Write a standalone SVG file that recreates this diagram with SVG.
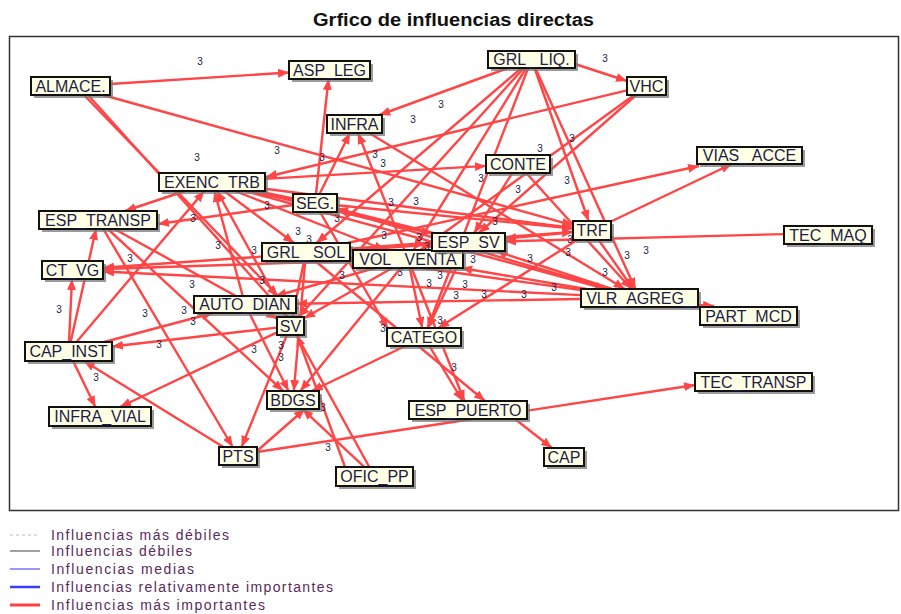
<svg xmlns="http://www.w3.org/2000/svg" width="901" height="614" viewBox="0 0 901 614">
<defs>
<style>
.t{font-family:"Liberation Sans",Arial,sans-serif;font-weight:bold;font-size:18px;fill:#111}
.e line{stroke:#ff4545;stroke-width:2.4;marker-end:url(#a)}
.lb text{font-family:"Liberation Sans",Arial,sans-serif;font-size:10px;fill:#1c1c48;text-anchor:middle}
.n rect.s{fill:#7a7a7a;opacity:.75}
.n rect.b{fill:#ffffe6;stroke:#111;stroke-width:2}
.n text{font-family:"Liberation Sans",Arial,sans-serif;font-size:16px;fill:#1c1c48;text-anchor:middle}
.lg text{font-family:"Liberation Sans",Arial,sans-serif;font-size:14px;fill:#5a2a5a}
</style>
<marker id="a" markerUnits="userSpaceOnUse" markerWidth="12" markerHeight="9" refX="11" refY="4.5" orient="auto"><path d="M0,0 L11,4.5 L0,9 z" fill="#ff4545"/></marker>
</defs>
<rect width="901" height="614" fill="#fff"/>
<text class="t" x="313" y="26" textLength="281" lengthAdjust="spacingAndGlyphs">Grfico de influencias directas</text>
<rect x="9.5" y="36.5" width="889" height="474" fill="none" stroke="#333" stroke-width="1.5"/>
<g id="connectors" class="e">
<line x1="110" y1="84" x2="289" y2="72.5"/>
<line x1="84" y1="95" x2="278" y2="296"/>
<line x1="88" y1="95" x2="288" y2="317"/>
<line x1="103" y1="95" x2="573" y2="225.3"/>
<line x1="316" y1="194" x2="328.5" y2="79"/>
<line x1="319.5" y1="194" x2="350" y2="133"/>
<line x1="404.4" y1="250" x2="358" y2="133"/>
<line x1="369.2" y1="133" x2="624.8" y2="289"/>
<line x1="508.2" y1="68" x2="379.3" y2="115"/>
<line x1="575" y1="64" x2="627" y2="81"/>
<line x1="534.5" y1="68" x2="588.6" y2="221"/>
<line x1="521.5" y1="68" x2="316.5" y2="243"/>
<line x1="526.2" y1="68" x2="413.6" y2="250"/>
<line x1="523.8" y1="68" x2="298.6" y2="317"/>
<line x1="528.2" y1="68" x2="427.5" y2="328"/>
<line x1="627" y1="90.3" x2="266" y2="177"/>
<line x1="636.2" y1="95" x2="478.8" y2="233"/>
<line x1="634.1" y1="95" x2="420.4" y2="250"/>
<line x1="265" y1="178.9" x2="486" y2="165.9"/>
<line x1="526.2" y1="173" x2="631.4" y2="289"/>
<line x1="512.3" y1="173" x2="474.2" y2="233"/>
<line x1="76.5" y1="342" x2="204.4" y2="191"/>
<line x1="242.7" y1="296" x2="214.4" y2="191"/>
<line x1="293" y1="198.5" x2="256.3" y2="191"/>
<line x1="185" y1="191" x2="125" y2="211"/>
<line x1="293" y1="205" x2="158" y2="224"/>
<line x1="70.6" y1="342" x2="96" y2="229"/>
<line x1="107.8" y1="229" x2="283.2" y2="391"/>
<line x1="103.3" y1="229" x2="232.7" y2="447"/>
<line x1="286.9" y1="335" x2="241.6" y2="447"/>
<line x1="257" y1="451" x2="305" y2="409"/>
<line x1="364.4" y1="467" x2="302.6" y2="409"/>
<line x1="257" y1="452" x2="695" y2="385"/>
<line x1="515" y1="419" x2="552" y2="448"/>
<line x1="73.1" y1="361" x2="95.4" y2="407"/>
<line x1="223.4" y1="447" x2="84" y2="361"/>
<line x1="277" y1="332.4" x2="120" y2="407"/>
<line x1="69" y1="342" x2="72" y2="279"/>
<line x1="104.2" y1="342" x2="213" y2="313"/>
<line x1="277" y1="327.6" x2="112" y2="346.5"/>
<line x1="353" y1="260.8" x2="103" y2="269"/>
<line x1="432" y1="244.6" x2="103" y2="267.8"/>
<line x1="249.3" y1="313" x2="288.5" y2="391"/>
<line x1="305.2" y1="261" x2="293.8" y2="391"/>
<line x1="400.7" y1="268" x2="300.3" y2="391"/>
<line x1="345" y1="467" x2="297" y2="335"/>
<line x1="369.3" y1="467" x2="217" y2="191"/>
<line x1="784" y1="234.1" x2="505" y2="241.3"/>
<line x1="573" y1="232.3" x2="505" y2="238.6"/>
<line x1="611" y1="221.5" x2="731.7" y2="164"/>
<line x1="347.3" y1="243" x2="699" y2="166"/>
<line x1="598.7" y1="240" x2="633.2" y2="289"/>
<line x1="535.3" y1="68" x2="635.4" y2="289"/>
<line x1="612.1" y1="289" x2="495.9" y2="251"/>
<line x1="586.3" y1="289" x2="461.2" y2="268"/>
<line x1="608.7" y1="289" x2="337" y2="209.4"/>
<line x1="581" y1="299" x2="296" y2="303.7"/>
<line x1="581" y1="290" x2="350" y2="258"/>
<line x1="581" y1="295.1" x2="103" y2="271.5"/>
<line x1="577" y1="240" x2="438.2" y2="328"/>
<line x1="464.3" y1="251" x2="428.2" y2="328"/>
<line x1="409.8" y1="268" x2="422.2" y2="328"/>
<line x1="320" y1="212" x2="388" y2="329"/>
<line x1="429.4" y1="346" x2="462.6" y2="401"/>
<line x1="411.6" y1="268" x2="464.4" y2="401"/>
<line x1="315.2" y1="261" x2="485" y2="401"/>
<line x1="405.3" y1="346" x2="311.7" y2="391"/>
<line x1="392.2" y1="268" x2="304" y2="318.3"/>
<line x1="436.3" y1="251" x2="275.4" y2="296"/>
<line x1="304.1" y1="261" x2="292.4" y2="317"/>
<line x1="337" y1="205.2" x2="573" y2="228.6"/>
<line x1="265" y1="188.8" x2="573" y2="228"/>
<line x1="224.1" y1="191" x2="294" y2="243"/>
<line x1="234.9" y1="191" x2="385.1" y2="250"/>
<line x1="245.2" y1="191" x2="606.3" y2="289"/>
<line x1="433.2" y1="233" x2="337" y2="208.6"/>
<line x1="114.4" y1="229" x2="277" y2="318.6"/>
<line x1="350" y1="248.7" x2="573" y2="231.9"/>
<line x1="250.5" y1="191" x2="432" y2="233.5"/>
<line x1="698" y1="305" x2="714" y2="306"/>
</g>
<g id="labels" class="lb">
<text x="200" y="65">3</text><text x="605" y="62">3</text><text x="441" y="108">3</text><text x="413" y="123">3</text>
<text x="572" y="142">3</text><text x="540" y="152">3</text><text x="197" y="161">3</text><text x="277" y="154">3</text>
<text x="322" y="161">3</text><text x="375" y="158">3</text><text x="383" y="167">3</text><text x="481" y="182">3</text>
<text x="567" y="184">3</text><text x="518" y="193">3</text><text x="267" y="209">3</text><text x="193" y="222">3</text>
<text x="337" y="222">3</text><text x="391" y="206">3</text><text x="416" y="205">3</text><text x="495" y="225">3</text>
<text x="298" y="235">3</text><text x="309" y="243">3</text><text x="384" y="239">3</text><text x="419" y="241">3</text>
<text x="427" y="250">3</text><text x="218" y="249">3</text><text x="254" y="254">3</text><text x="130" y="262">3</text>
<text x="473" y="263">3</text><text x="530" y="262">3</text><text x="570" y="243">3</text><text x="568" y="256">3</text>
<text x="627" y="259">3</text><text x="646" y="254">3</text><text x="605" y="276">3</text><text x="192" y="288">3</text>
<text x="262" y="284">3</text><text x="342" y="279">3</text><text x="400" y="276">3</text><text x="440" y="279">3</text>
<text x="429" y="287">3</text><text x="465" y="288">3</text><text x="456" y="299">3</text><text x="484" y="298">3</text>
<text x="524" y="298">3</text><text x="554" y="291">3</text><text x="59" y="313">3</text><text x="145" y="317">3</text>
<text x="184" y="314">3</text><text x="193" y="325">3</text><text x="159" y="348">3</text><text x="254" y="353">3</text>
<text x="281" y="349">3</text><text x="281" y="361">3</text><text x="383" y="332">3</text><text x="440" y="324">3</text>
<text x="96" y="381">3</text><text x="454" y="371">3</text><text x="323" y="411">3</text><text x="328" y="451">3</text>
</g>
<g class="n">
<g id="n-almace"><rect class="s" x="34" y="80" width="79" height="18"/><rect class="b" x="31" y="77" width="79" height="18"/><text x="70.5" y="91.5">ALMACE.</text></g>
<g id="n-asp_leg"><rect class="s" x="292" y="64" width="81" height="18"/><rect class="b" x="289" y="61" width="81" height="18"/><text x="329.5" y="75.5">ASP_LEG</text></g>
<g id="n-infra"><rect class="s" x="330" y="118" width="55" height="18"/><rect class="b" x="327" y="115" width="55" height="18"/><text x="354.5" y="129.5">INFRA</text></g>
<g id="n-exenc_trb"><rect class="s" x="162" y="176" width="106" height="18"/><rect class="b" x="159" y="173" width="106" height="18"/><text x="212" y="187.5">EXENC_TRB</text></g>
<g id="n-grl_liq"><rect class="s" x="491" y="54" width="87" height="17"/><rect class="b" x="488" y="51" width="87" height="17"/><text x="531.5" y="65">GRL_ LIQ.</text></g>
<g id="n-vhc"><rect class="s" x="630" y="80" width="39" height="18"/><rect class="b" x="627" y="77" width="39" height="18"/><text x="646.5" y="91.5">VHC</text></g>
<g id="n-conte"><rect class="s" x="489" y="158" width="64" height="18"/><rect class="b" x="486" y="155" width="64" height="18"/><text x="518" y="169.5">CONTE</text></g>
<g id="n-vias_acce"><rect class="s" x="700" y="150" width="105" height="17"/><rect class="b" x="697" y="147" width="105" height="17"/><text x="749.5" y="161">VIAS_ ACCE</text></g>
<g id="n-seg"><rect class="s" x="296" y="197" width="44" height="18"/><rect class="b" x="293" y="194" width="44" height="18"/><text x="315" y="208.5">SEG.</text></g>
<g id="n-esp_transp"><rect class="s" x="42" y="214" width="118" height="18"/><rect class="b" x="39" y="211" width="118" height="18"/><text x="98" y="225.5">ESP_TRANSP</text></g>
<g id="n-ct_vg"><rect class="s" x="45" y="264" width="61" height="18"/><rect class="b" x="42" y="261" width="61" height="18"/><text x="72.5" y="275.5">CT_VG</text></g>
<g id="n-grl_sol"><rect class="s" x="265" y="246" width="88" height="18"/><rect class="b" x="262" y="243" width="88" height="18"/><text x="306" y="257.5">GRL_ SOL</text></g>
<g id="n-vol_venta"><rect class="s" x="356" y="253" width="110" height="18"/><rect class="b" x="353" y="250" width="110" height="18"/><text x="408" y="264.5">VOL_ VENTA</text></g>
<g id="n-esp_sv"><rect class="s" x="435" y="236" width="73" height="18"/><rect class="b" x="432" y="233" width="73" height="18"/><text x="468.5" y="247.5">ESP_SV</text></g>
<g id="n-trf"><rect class="s" x="576" y="224" width="38" height="19"/><rect class="b" x="573" y="221" width="38" height="19"/><text x="592" y="236">TRF</text></g>
<g id="n-tec_maq"><rect class="s" x="787" y="229" width="88" height="18"/><rect class="b" x="784" y="226" width="88" height="18"/><text x="828" y="240.5">TEC_MAQ</text></g>
<g id="n-vlr_agreg"><rect class="s" x="584" y="292" width="117" height="18"/><rect class="b" x="581" y="289" width="117" height="18"/><text x="639.5" y="303.5">VLR_AGREG_</text></g>
<g id="n-part_mcd"><rect class="s" x="703" y="310" width="97" height="18"/><rect class="b" x="700" y="307" width="97" height="18"/><text x="748.5" y="321.5">PART_MCD</text></g>
<g id="n-auto_dian"><rect class="s" x="197" y="299" width="102" height="17"/><rect class="b" x="194" y="296" width="102" height="17"/><text x="245" y="310">AUTO_DIAN</text></g>
<g id="n-sv"><rect class="s" x="280" y="320" width="27" height="18"/><rect class="b" x="277" y="317" width="27" height="18"/><text x="290.5" y="331.5">SV</text></g>
<g id="n-catego"><rect class="s" x="390" y="331" width="74" height="18"/><rect class="b" x="387" y="328" width="74" height="18"/><text x="424" y="342.5">CATEGO</text></g>
<g id="n-cap_inst"><rect class="s" x="28" y="345" width="87" height="19"/><rect class="b" x="25" y="342" width="87" height="19"/><text x="68.5" y="357">CAP_INST</text></g>
<g id="n-infra_vial"><rect class="s" x="52" y="410" width="102" height="19"/><rect class="b" x="49" y="407" width="102" height="19"/><text x="100" y="422">INFRA_VIAL</text></g>
<g id="n-bdgs"><rect class="s" x="270" y="394" width="52" height="18"/><rect class="b" x="267" y="391" width="52" height="18"/><text x="293" y="405.5">BDGS</text></g>
<g id="n-esp_puerto"><rect class="s" x="412" y="404" width="118" height="18"/><rect class="b" x="409" y="401" width="118" height="18"/><text x="468" y="415.5">ESP_PUERTO</text></g>
<g id="n-pts"><rect class="s" x="222" y="450" width="38" height="18"/><rect class="b" x="219" y="447" width="38" height="18"/><text x="238" y="461.5">PTS</text></g>
<g id="n-ofic_pp"><rect class="s" x="339" y="470" width="77" height="19"/><rect class="b" x="336" y="467" width="77" height="19"/><text x="374.5" y="482">OFIC_PP</text></g>
<g id="n-cap"><rect class="s" x="547" y="451" width="40" height="18"/><rect class="b" x="544" y="448" width="40" height="18"/><text x="564" y="462.5">CAP</text></g>
<g id="n-tec_transp"><rect class="s" x="698" y="376" width="117" height="18"/><rect class="b" x="695" y="373" width="117" height="18"/><text x="753.5" y="387.5">TEC_TRANSP</text></g>
</g>
<g id="legend" class="lg">
<line x1="10" y1="535" x2="40" y2="535" stroke="#bbb" stroke-width="1" stroke-dasharray="3,3"/>
<line x1="10" y1="551" x2="40" y2="551" stroke="#444" stroke-width="1"/>
<line x1="10" y1="569" x2="40" y2="569" stroke="#3333ff" stroke-width="1"/>
<line x1="10" y1="587" x2="40" y2="587" stroke="#3b3bff" stroke-width="2.5"/>
<line x1="10" y1="605" x2="40" y2="605" stroke="#ff4040" stroke-width="3"/>
<text x="51" y="540" textLength="178" lengthAdjust="spacing">Influencias más débiles</text>
<text x="51" y="556" textLength="141" lengthAdjust="spacing">Influencias débiles</text>
<text x="51" y="574" textLength="143" lengthAdjust="spacing">Influencias medias</text>
<text x="51" y="592" textLength="282" lengthAdjust="spacing">Influencias relativamente importantes</text>
<text x="51" y="610" textLength="214" lengthAdjust="spacing">Influencias más importantes</text>
</g>
</svg>
